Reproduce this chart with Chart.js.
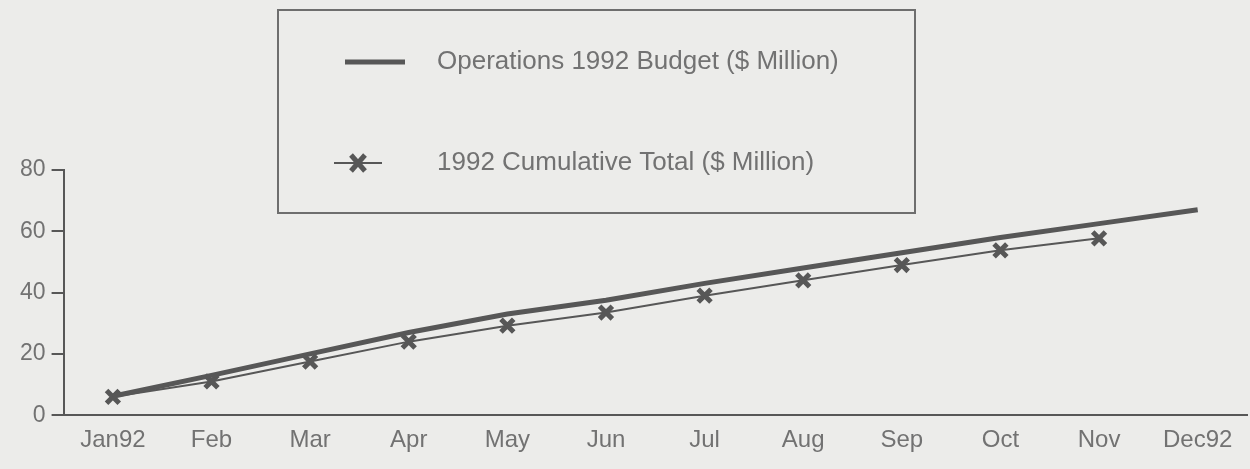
<!DOCTYPE html>
<html>
<head>
<meta charset="utf-8">
<title>1992 Operations Budget</title>
<script src="https://cdn.jsdelivr.net/npm/chart.js@4"></script>
<style>
  html, body { margin: 0; padding: 0; background: #ececea; }
  #wrap { width: 1250px; height: 469px; position: relative; }
</style>
</head>
<body>
<div id="wrap"><canvas id="chart" width="1250" height="469"></canvas></div>
<script>
// Months along the bottom axis
const months = ["Jan92", "Feb", "Mar", "Apr", "May", "Jun", "Jul", "Aug", "Sep", "Oct", "Nov", "Dec92"];

// Planned spend, $ million
const budget = [6.2, 13, 20, 27, 33, 37.5, 43, 48, 53, 58, 62.5, 67];

// Actual spend to date, $ million (no December figure yet)
const cumulative = [6, 11, 17.5, 24, 29.2, 33.5, 39, 44, 49, 53.8, 57.7, null];

const yTicks = [0, 20, 40, 60, 80];

const ink = "#575757";
const textColor = "#727272";
const font = "'Liberation Sans', Arial, sans-serif";

// Boxed legend drawn straight onto the canvas
const boxLegend = {
  id: "boxLegend",
  afterDraw(chart) {
    const ctx = chart.ctx;
    const sets = chart.data.datasets;
    ctx.save();
    ctx.strokeStyle = "#6e6e6e";
    ctx.lineWidth = 2;
    ctx.strokeRect(278, 10, 637, 203);

    ctx.font = "26px " + font;
    ctx.fillStyle = textColor;
    ctx.textBaseline = "middle";

    // budget row
    ctx.strokeStyle = ink;
    ctx.lineWidth = 5;
    ctx.beginPath();
    ctx.moveTo(345, 62);
    ctx.lineTo(405, 62);
    ctx.stroke();
    ctx.fillText(sets[0].label, 437, 62);

    // cumulative row
    ctx.lineWidth = 2;
    ctx.beginPath();
    ctx.moveTo(334, 163);
    ctx.lineTo(382, 163);
    ctx.stroke();
    ctx.lineWidth = 5;
    ctx.beginPath();
    ctx.moveTo(351, 155); ctx.lineTo(365, 171);
    ctx.moveTo(365, 155); ctx.lineTo(351, 171);
    ctx.stroke();
    ctx.fillText(sets[1].label, 437, 163);
    ctx.restore();
  }
};

new Chart(document.getElementById("chart"), {
  type: "line",
  data: {
    labels: months,
    datasets: [
      {
        label: "Operations 1992 Budget ($ Million)",
        data: budget,
        borderColor: ink,
        borderWidth: 5,
        pointRadius: 0,
        tension: 0
      },
      {
        label: "1992 Cumulative Total ($ Million)",
        data: cumulative,
        borderColor: ink,
        borderWidth: 2,
        pointStyle: "crossRot",
        pointRadius: 9,
        pointBorderWidth: 5,
        pointBorderColor: ink,
        tension: 0
      }
    ]
  },
  options: {
    responsive: false,
    animation: false,
    layout: { autoPadding: false, padding: { top: 170, right: 3, bottom: 3, left: 14 } },
    plugins: {
      legend: { display: false },
      tooltip: { enabled: false }
    },
    scales: {
      x: {
        offset: true,
        grid: { display: false, drawTicks: false },
        border: { color: ink, width: 2 },
        ticks: {
          color: textColor,
          padding: 11,
          maxRotation: 0,
          autoSkip: false,
          font: { family: font, size: 24 }
        }
      },
      y: {
        min: 0,
        max: 80,
        afterBuildTicks: (axis) => { axis.ticks = yTicks.map((v) => ({ value: v })); },
        grid: { drawOnChartArea: false, drawTicks: true, tickLength: 12, color: ink, lineWidth: 2 },
        border: { color: ink, width: 2 },
        ticks: {
          color: textColor,
          padding: 6,
          font: { family: font, size: 23 }
        }
      }
    }
  },
  plugins: [boxLegend]
});
</script>
</body>
</html>
